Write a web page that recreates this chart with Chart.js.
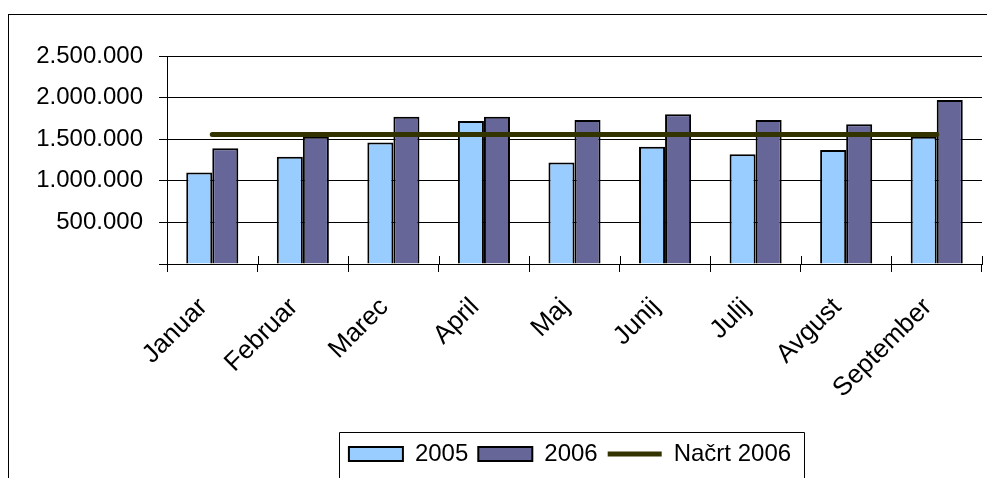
<!DOCTYPE html>
<html><head><meta charset="utf-8">
<script src="https://cdn.jsdelivr.net/npm/chart.js@4"></script>
<style>
html,body{margin:0;padding:0;background:#fff;overflow:hidden;width:987px;height:478px}
#frame{position:absolute;left:8px;top:14px;width:1200px;height:700px;border:1px solid #000;box-sizing:border-box}
#wrap{position:absolute;left:0;top:0;width:987px;height:478px}
</style></head><body>
<div id="frame"></div>
<div id="wrap"><canvas id="c" width="987" height="478"></canvas></div>
<script>
const categories = ['Januar','Februar','Marec','April','Maj','Junij','Julij','Avgust','September'];
const values2005 = [1100000,1290000,1460000,1720000,1220000,1410000,1320000,1370000,1530000];
const values2006 = [1390000,1530000,1770000,1770000,1730000,1800000,1730000,1680000,1970000];
const plan2006 = [1555000,1555000,1555000,1555000,1555000,1555000,1555000,1555000,1555000];
const seriesNames = ['2005','2006','Načrt 2006'];
const yMin = 0, yMax = 2500000, yStep = 500000;

const FONT = 'Liberation Sans, Arial, sans-serif';
function fmt(v){ return String(Math.round(v)).replace(/\B(?=(\d{3})+(?!\d))/g,'.'); }

const framePlugin = {
  id:'framePlugin',
  afterUpdate(chart){
    const lg = chart.legend;
    if (lg){
      const dx = 79;
      lg.left += dx; lg.right += dx;
      lg.legendHitBoxes.forEach(h=>{h.left += dx;});
    }
  },
  afterDraw(chart){
    const ctx = chart.ctx;
    const x = chart.scales.x;
    const n = categories.length;
    ctx.save();
    ctx.strokeStyle = '#000';
    ctx.lineWidth = 1;
    ctx.beginPath();
    for (let i=0;i<=n;i++){
      const px = Math.round(x.left + i*(x.width/n)) + 0.5;
      ctx.moveTo(px, x.top); ctx.lineTo(px, x.top-8);
    }
    ctx.stroke();
    const lg = chart.legend;
    const hb = lg.legendHitBoxes;
    const l = Math.round(hb[0].left - 10) + 0.5;
    const last = hb[hb.length-1];
    const r = Math.round(last.left + last.width + 13) + 0.5;
    const t = Math.round(lg.top) + 0.5;
    ctx.beginPath();
    ctx.moveTo(l, 490); ctx.lineTo(l, t); ctx.lineTo(r, t); ctx.lineTo(r, 490);
    ctx.stroke();
    ctx.restore();
  }
};

new Chart(document.getElementById('c'), {
  data: {
    labels: categories,
    datasets: [
      { type:'bar', label: seriesNames[0], data: values2005, backgroundColor:'#99CCFF', borderColor:'#000', borderWidth:2, pointStyle:'rect', order:1 },
      { type:'bar', label: seriesNames[1], data: values2006, backgroundColor:'#666699', borderColor:'#000', borderWidth:2, pointStyle:'rect', order:1 },
      { type:'line', label: seriesNames[2], data: plan2006, borderColor:'#333300', backgroundColor:'#333300', borderWidth:5, borderCapStyle:'round', pointRadius:0, pointStyle:'line', fill:false, order:0 }
    ]
  },
  options: {
    responsive:false, animation:false, devicePixelRatio:1,
    layout:{ padding:{ top:56, right:5, left:0, bottom:2 } },
    datasets:{ bar:{ categoryPercentage:0.575, barPercentage:1 } },
    plugins:{
      tooltip:{ enabled:false },
      legend:{
        position:'bottom',
        labels:{
          usePointStyle:true, pointStyleWidth:54, boxHeight:14,
          font:{ size:24, family:FONT }, color:'#000', padding:10,
          sort:(a,b)=>a.datasetIndex-b.datasetIndex
        }
      }
    },
    scales:{
      x:{
        grid:{ offset:true, drawOnChartArea:false, tickLength:8, color:'#000' },
        border:{ color:'#000', width:1 },
        ticks:{ maxRotation:45, minRotation:45, font:{ size:26, family:FONT }, color:'#000', padding:20, labelOffset:-9 },
        afterFit:(s)=>{ s.height = 168; }
      },
      y:{
        min:yMin, max:yMax,
        ticks:{ stepSize:yStep, callback:(v)=> v===0 ? '' : fmt(v), font:{ size:24, family:FONT }, color:'#000', padding:16 },
        grid:{ color:'#000', tickLength:8 },
        border:{ color:'#000', width:1 },
        afterFit:(s)=>{ s.width = 167; }
      }
    }
  },
  plugins:[framePlugin]
});
</script>
</body></html>
